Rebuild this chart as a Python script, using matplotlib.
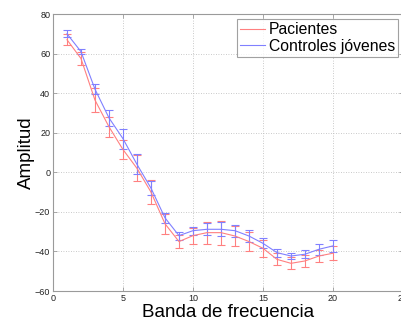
import matplotlib
matplotlib.use("Agg")
import matplotlib.pyplot as plt

# Frequency bands and mean amplitudes with their spread
bandas = [1, 2, 3, 4, 5, 6, 7, 8, 9, 10, 11, 12, 13, 14, 15, 16, 17, 18, 19, 20]

pacientes = [67, 57.5, 36.5, 23, 11.5, 2, -10, -26, -35, -32, -30.5, -30.5, -32.2, -35, -38.4, -44, -46, -44.8, -42.3, -40.9]
pacientes_err = [2.8, 3.5, 6, 5, 5, 6.5, 6.2, 5, 3.5, 4, 5.5, 6, 5.2, 5, 4.2, 3, 3, 3, 3, 3.5]

controles = [70, 61, 42, 27.5, 17, 4, -8, -23, -32, -29.5, -28.8, -28.8, -29.5, -32.2, -35.9, -40.6, -42.3, -41.4, -38.9, -37.2]
controles_err = [1.8, 1.3, 2.5, 4, 5, 5, 3.5, 2.5, 2, 2, 3, 3.5, 3, 3, 2.5, 2, 1.5, 2, 2.8, 3]

xticks = [0, 5, 10, 15, 20, 25]
yticks = [-60, -40, -20, 0, 20, 40, 60, 80]

plt.rcParams["font.family"] = ["Liberation Sans", "DejaVu Sans"]

fig = plt.figure(figsize=(4.02, 3.23), dpi=100)
ax = fig.add_axes([0.1318, 0.099, 0.8706, 0.8576])

red = "#ff8080"
blue = "#8080ff"

ax.errorbar(bandas, pacientes, yerr=pacientes_err, color=red, lw=0.8,
            elinewidth=0.8, capsize=3, capthick=0.8, label="Pacientes")
ax.errorbar(bandas, controles, yerr=controles_err, color=blue, lw=0.8,
            elinewidth=0.8, capsize=3, capthick=0.8, label="Controles jóvenes")

ax.set_xlim(0, 25)
ax.set_ylim(-60, 80)
ax.set_xticks(xticks)
ax.set_yticks(yticks)
ax.grid(True, linestyle=(0, (1, 2)), color="#b8b8b8", linewidth=0.6)
ax.set_axisbelow(True)

for s in ax.spines.values():
    s.set_color("#9a9a9a")
    s.set_linewidth(0.8)
ax.tick_params(direction="in", length=3, width=0.6, color="#9a9a9a",
               labelsize=6.5, labelcolor="#222222", pad=2, top=True, right=True)

ax.set_xlabel("Banda de frecuencia", fontsize=13.5, labelpad=1)
ax.set_ylabel("Amplitud", fontsize=13.5, labelpad=0)

# Legend handles as plain lines
handles = [plt.Line2D([], [], color=red, lw=0.8), plt.Line2D([], [], color=blue, lw=0.8)]
leg = fig.legend(handles, ["Pacientes", "Controles jóvenes"], loc="upper right",
                 bbox_to_anchor=(0.990, 0.941), fontsize=11.3, frameon=True,
                 fancybox=False, edgecolor="#8a8a8a", handlelength=1.6,
                 handletextpad=0.2, borderpad=0.2, labelspacing=0.1,
                 borderaxespad=0)
leg.get_frame().set_linewidth(0.8)

fig.savefig("out.png", dpi=100)
